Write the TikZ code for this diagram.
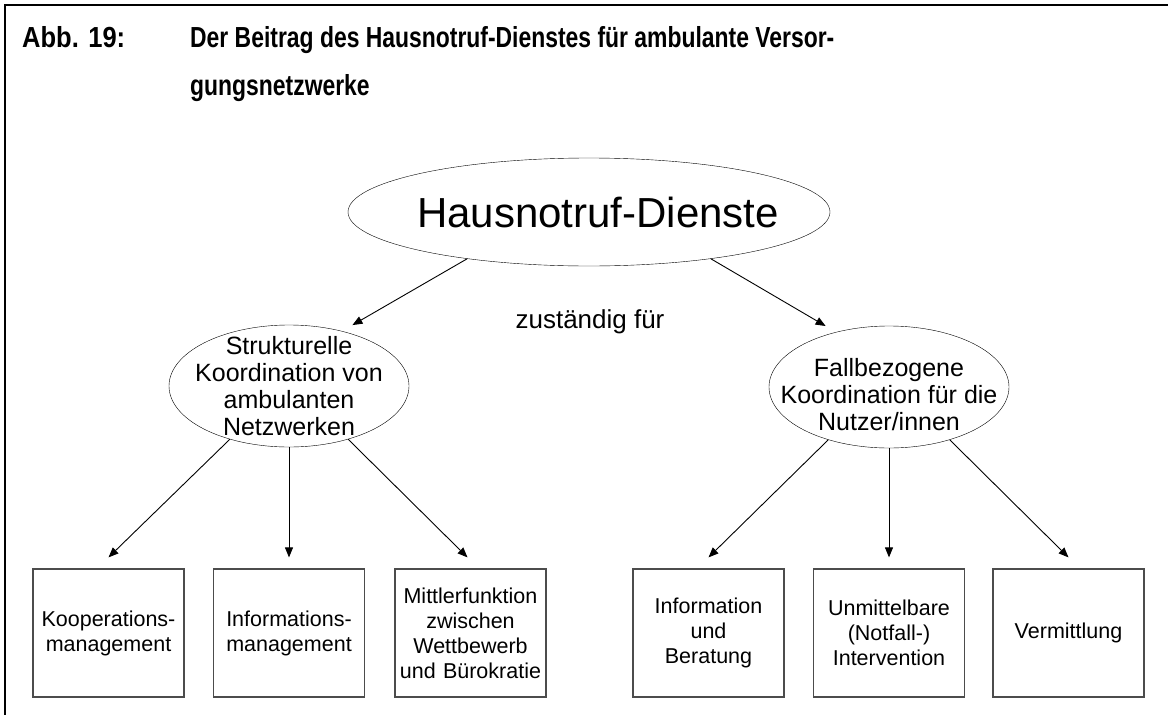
\documentclass[tikz,border=0pt]{standalone}
\usepackage{fontspec}
\setmainfont{Liberation Sans}
\usepackage{graphicx}
\usetikzlibrary{arrows.meta,positioning,shapes.geometric}

\begin{document}
\begin{tikzpicture}[
        x=1pt, y=-1pt,
        headline/.style={anchor=base west, inner sep=0pt, font=\fontsize{29}{34}\selectfont\bfseries},
        oval/.style={draw, ellipse, inner xsep=-25pt, inner ysep=-10pt, align=center, minimum width=240pt, minimum height=122pt, font=\fontsize{25}{27}\selectfont},
        task/.style={draw=black!70, line width=1.2pt, inner sep=3pt, text width=145pt, minimum height=128pt, align=center, font=\fontsize{21.5}{25}\selectfont},
        arr/.style={-{Triangle[length=10pt,width=8pt]}, line width=0.9pt}
    ]
    \useasboundingbox (0,0) rectangle (1168,715);
    \draw[line width=2.5pt] (5,715) -- (5,5) -- (1168,5);

    % title
    \node (abb) [headline] at (22,47) {\scalebox{0.88}[1]{Abb. 19:}};
    \node (tit1) [headline] at (190,47) {\scalebox{0.79}[1]{Der Beitrag des Hausnotruf-Dienstes f\"ur ambulante Versor-}};
    \node (tit2) [headline] at (190,95) {\scalebox{0.79}[1]{gungsnetzwerke}};

    % ellipses
    \node (haus) [draw, ellipse, inner xsep=-25pt, inner ysep=0pt, minimum width=482pt, minimum height=108pt, font=\fontsize{42}{45}\selectfont] at (589,212) {\hspace{18pt}Hausnotruf-Dienste};
    \node (stru) [oval] at (289,386) {Strukturelle\\Koordination von\\ambulanten\\Netzwerken};
    \node (fall) [oval] at (889,387) {\rule{0pt}{34pt}Fallbezogene\\Koordination f\"ur die\\Nutzer/innen};
    \node (zust) [font=\fontsize{26}{28}\selectfont] at (590,322) {zust\"andig f\"ur};

    % boxes
    \node (koop) [task] at (108.5,633) {Kooperations-\\management};
    \node (info) [task] at (289,633) {Informations-\\management};
    \node (mitt) [task] at (470.5,633) {Mittlerfunktion\\zwischen\\Wettbewerb\\und B\"urokratie};
    \node (bera) [task] at (708.5,633) {Information\\und\\Beratung};
    \node (inte) [task] at (889,633) {Unmittelbare\\(Notfall-)\\Intervention};
    \node (verm) [task] at (1068.5,633) {Vermittlung};

    \draw[arr, shorten >=12pt] (haus.201) -- (stru.46);
    \draw[arr, shorten >=12pt] (haus.339) -- (fall.134);

    \draw[arr] (stru.222) -- ([yshift=11pt]koop.north);
    \draw[arr] (stru.south) -- ([yshift=11pt]info.north);
    \draw[arr] (stru.318) -- ([xshift=-3pt, yshift=11pt]mitt.north);
    \draw[arr] (fall.221) -- ([yshift=11pt]bera.north);
    \draw[arr] (fall.south) -- ([yshift=11pt]inte.north);
    \draw[arr] (fall.319) -- ([yshift=11pt]verm.north);
\end{tikzpicture}
\end{document}
